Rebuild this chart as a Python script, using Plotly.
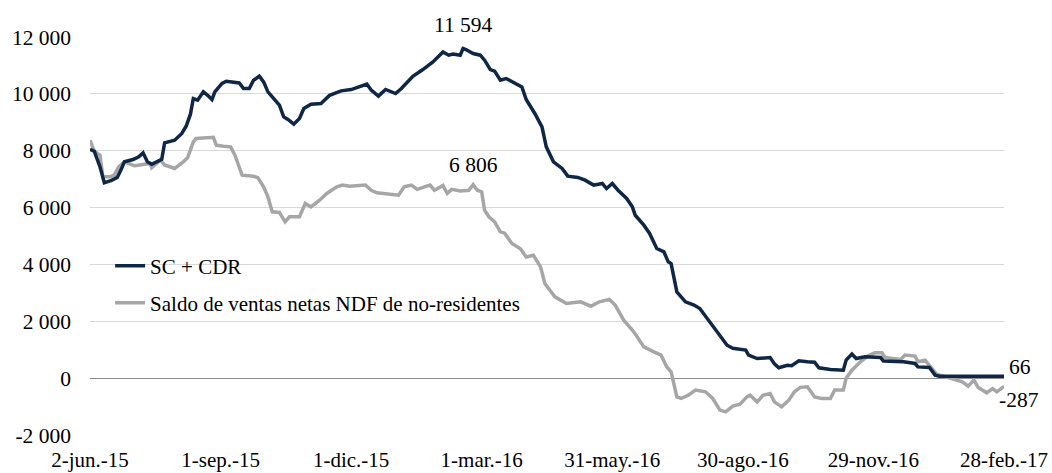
import pandas as pd
import plotly.graph_objects as go

# Day offsets counted from 2-jun-2015 and values
start_date = "2015-06-02"

sc_days = [0, 3, 7, 10, 15, 19, 22, 24, 30, 34, 37, 40, 43, 48, 50, 52, 59, 64, 67, 70, 72, 75, 79, 82, 85, 87,
           92, 95, 104, 107, 111, 114, 118, 121, 124, 132, 135, 138, 142, 146, 149, 154, 161, 167, 175, 182, 188,
           193, 196, 201, 206, 213, 217, 221, 225, 232, 239, 246, 250, 253, 258, 260, 262, 267, 272, 275, 279,
           282, 286, 290, 295, 301, 304, 310, 315, 318, 323, 329, 333, 340, 345, 351, 357, 360, 364, 368, 374,
           378, 380, 386, 390, 395, 400, 403, 405, 409, 415, 421, 425, 430, 434, 438, 439, 444, 448, 457, 459,
           465, 474, 477, 480, 486, 489, 494, 500, 505, 508, 516, 525, 527, 531, 534, 540, 551, 553, 567, 575,
           577, 585, 589, 592, 637]
sc_vals = [8050, 7980, 7430, 6870, 6960, 7060, 7375, 7610, 7690, 7785, 7925, 7610, 7525, 7667, 7700, 8275, 8370,
           8605, 8860, 9285, 9835, 9777, 10070, 9950, 9800, 10070, 10365, 10445, 10385, 10190, 10190, 10480,
           10620, 10420, 10070, 9600, 9190, 9100, 8935, 9135, 9485, 9635, 9660, 9950, 10105, 10150, 10245,
           10340, 10130, 9920, 10155, 10010, 10190, 10420, 10620, 10855, 11125, 11475, 11360, 11400, 11360,
           11594, 11560, 11420, 11360, 11185, 10855, 10800, 10480, 10540, 10420, 10245, 9800, 9310, 8840,
           8135, 7610, 7375, 7105, 7060, 6965, 6790, 6850, 6670, 6845, 6610, 6320, 6025, 5730, 5380, 5090,
           4560, 4440, 4090, 4030, 3035, 2685, 2570, 2450, 2100, 1865, 1570, 1510, 1160, 1050, 985, 810, 690,
           725, 500, 365, 455, 440, 610, 575, 560, 365, 305, 280, 635, 845, 690, 750, 725, 600, 575, 515, 395,
           375, 105, 66, 66]

ndf_days = [0, 3, 7, 9, 14, 17, 20, 24, 31, 36, 42, 43, 49, 52, 59, 65, 68, 72, 74, 86, 88, 93, 98, 101, 106,
            114, 117, 121, 124, 127, 132, 136, 139, 146, 150, 154, 160, 165, 172, 176, 181, 192, 196, 200, 209,
            215, 219, 224, 228, 232, 237, 240, 246, 249, 252, 258, 264, 267, 270, 273, 275, 278, 282, 286, 289,
            294, 300, 304, 309, 314, 317, 324, 332, 342, 349, 355, 362, 366, 372, 379, 386, 393, 398, 402, 405,
            409, 412, 417, 422, 429, 434, 439, 443, 448, 453, 458, 460, 465, 469, 474, 477, 482, 487, 491, 495,
            500, 505, 510, 516, 519, 525, 527, 531, 537, 542, 547, 552, 554, 565, 568, 575, 577, 582, 590, 597,
            602, 608, 612, 616, 619, 625, 629, 632, 637]
ndf_vals = [8370, 7980, 7840, 7080, 7080, 7150, 7430, 7610, 7470, 7500, 7550, 7400, 7667, 7500, 7375, 7610, 7750,
            8310, 8430, 8470, 8195, 8160, 8135, 7840, 7140, 7105, 7050, 6730, 6375, 5850, 5830, 5500, 5675, 5675,
            6145, 6025, 6260, 6495, 6730, 6790, 6750, 6790, 6610, 6520, 6470, 6435, 6730, 6790, 6640, 6700, 6790,
            6610, 6780, 6495, 6640, 6580, 6610, 6806, 6610, 6550, 5910, 5675, 5500, 5145, 5100, 4735, 4550, 4265,
            4325, 3915, 3330, 2860, 2625, 2685, 2530, 2685, 2770, 2570, 2040, 1630, 1100, 925, 810, 395, 220,
            -660, -715, -600, -420, -480, -715, -1125, -1185, -985, -915, -650, -600, -835, -600, -540, -835,
            -1010, -775, -480, -325, -305, -660, -715, -715, -420, -420, 0, 280, 575, 775, 890, 890, 725, 655,
            810, 775, 575, 635, 140, 45, -40, -130, -280, -70, -325, -515, -370, -480, -287]

x_tick_dates = ["2015-06-02", "2015-09-01", "2015-12-01", "2016-03-01", "2016-05-31", "2016-08-30",
                "2016-11-29", "2017-02-28"]
x_tick_labels = ["2-jun.-15", "1-sep.-15", "1-dic.-15", "1-mar.-16", "31-may.-16", "30-ago.-16",
                 "29-nov.-16", "28-feb.-17"]
y_tick_vals = [-2000, 0, 2000, 4000, 6000, 8000, 10000, 12000]
y_tick_labels = ["-2 000", "0", "2 000", "4 000", "6 000", "8 000", "10 000", "12 000"]

name_sc = "SC + CDR"
name_ndf = "Saldo de ventas netas NDF de no-residentes"

# labelled points
sc_label_value = 11594
ndf_label_value = 6806

base = pd.Timestamp(start_date)
sc_dates = [base + pd.Timedelta(days=d) for d in sc_days]
ndf_dates = [base + pd.Timedelta(days=d) for d in ndf_days]

FONT = "Liberation Serif"
DARK = "#0f2744"
GRAY = "#a6a6a6"

fig = go.Figure()
fig.add_trace(go.Scatter(x=ndf_dates, y=ndf_vals, mode="lines", name=name_ndf,
                         line=dict(color=GRAY, width=3.5), legend="legend2"))
fig.add_trace(go.Scatter(x=sc_dates, y=sc_vals, mode="lines", name=name_sc,
                         line=dict(color=DARK, width=3.5), legend="legend"))

i_sc = sc_vals.index(sc_label_value)
i_ndf = ndf_vals.index(ndf_label_value)
ann_font = dict(family=FONT, size=21.5, color="#000000")
fig.add_annotation(x=sc_dates[i_sc], y=sc_vals[i_sc], text="11 594", showarrow=False,
                   yshift=24, font=ann_font)
fig.add_annotation(x=ndf_dates[i_ndf], y=ndf_vals[i_ndf], text="6 806", showarrow=False,
                   yshift=20, font=ann_font)
fig.add_annotation(x=sc_dates[-1], y=sc_vals[-1], text="66", showarrow=False,
                   xanchor="left", xshift=3, yshift=9, font=ann_font)
fig.add_annotation(x=ndf_dates[-1], y=ndf_vals[-1], text="-287", showarrow=False,
                   xanchor="left", xshift=-7, yshift=-14, font=ann_font)

fig.update_layout(
    width=1052, height=473,
    margin=dict(l=90, r=48, t=37, b=38),
    paper_bgcolor="white", plot_bgcolor="white",
    font=dict(family=FONT, size=21.5, color="#000000"),
    showlegend=True,
    legend=dict(x=0.022, y=0.4246, xanchor="left", yanchor="middle", bgcolor="rgba(0,0,0,0)",
                font=dict(family=FONT, size=21, color="#000000")),
    legend2=dict(x=0.022, y=0.3317, xanchor="left", yanchor="middle", bgcolor="rgba(0,0,0,0)",
                 font=dict(family=FONT, size=21, color="#000000")),
    xaxis=dict(type="date", range=[x_tick_dates[0], x_tick_dates[-1]], tickmode="array",
               tickvals=x_tick_dates, ticktext=x_tick_labels, showgrid=False, zeroline=False,
               showline=False, ticks="", automargin=False, ticklabelstandoff=10,
               tickfont=dict(family=FONT, size=21, color="#000000")),
    yaxis=dict(range=[-2000, 12000], tickmode="array", tickvals=y_tick_vals, ticktext=y_tick_labels,
               showgrid=True, gridcolor="#d9d9d9", gridwidth=1, zeroline=True, zerolinecolor="#8c8c8c",
               zerolinewidth=1, showline=False, ticks="", automargin=False, ticklabelstandoff=18,
               tickfont=dict(family=FONT, size=21.5, color="#000000")),
)

# remove the page's default body margin so the 1052x473 figure fills the window exactly
fig.write_html("out.html",
               config={"displayModeBar": False},
               post_script="document.body.style.margin='0';document.body.style.overflow='hidden';")
